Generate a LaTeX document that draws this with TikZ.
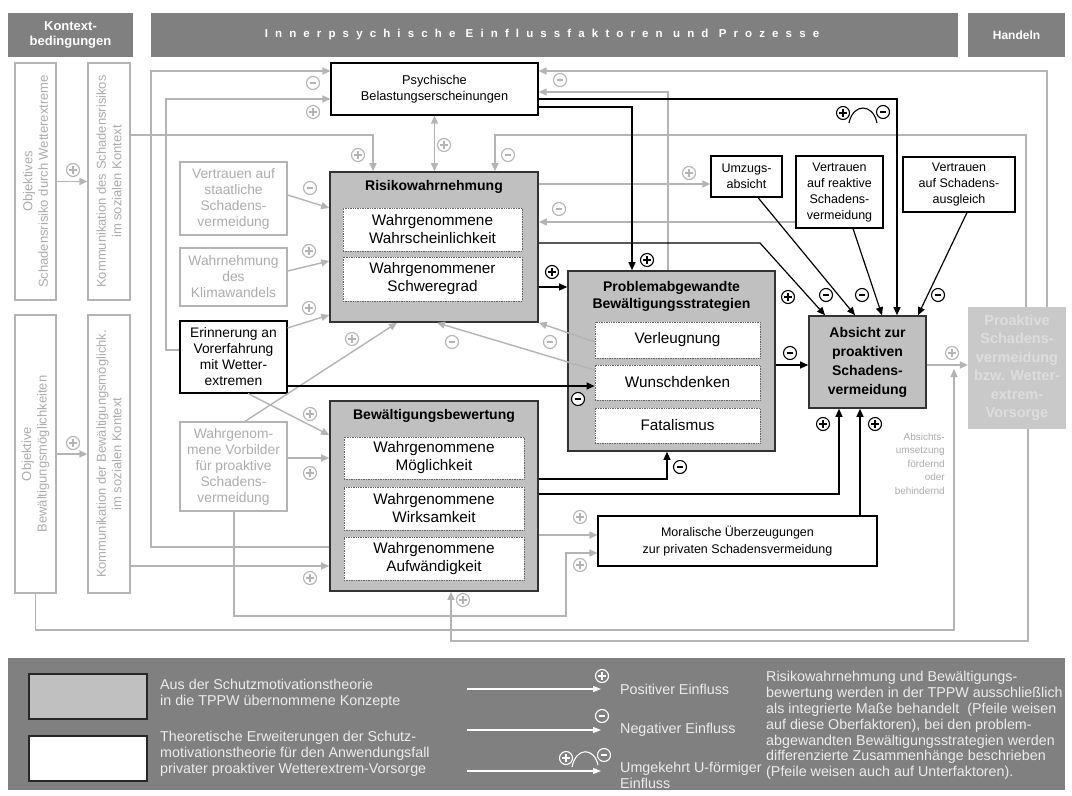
\documentclass[tikz,border=0pt]{standalone}
\usepackage{fontspec}
\setmainfont{Liberation Sans}
\usetikzlibrary{arrows.meta}
\definecolor{hdr}{HTML}{808080}
\definecolor{lg}{HTML}{B4B4B4}
\definecolor{gtxt}{HTML}{ADADAD}
\definecolor{thf}{HTML}{C0C0C0}
\definecolor{pfill}{HTML}{C9C9C9}
\definecolor{ptxt}{HTML}{DDDDDD}
\definecolor{legtxt}{HTML}{ECECEC}
\colorlet{symfill}{white}
\newcommand{\fsz}[2]{\fontsize{#1bp}{#2bp}\selectfont}
\tikzset{
  hbox/.style={fill=hdr, text=white, inner sep=0pt, align=center},
  gbox/.style={draw=lg, line width=1.3bp, fill=white, text=gtxt, align=center, inner sep=0pt, font=\fsz{13.8}{16}},
  wbox/.style={draw=black, line width=1.1bp, fill=white, text=black, align=center, inner sep=0pt},
  tbox/.style={draw=black!80, line width=1.6bp, fill=thf, inner sep=0pt},
  sbox/.style={draw=black!60, densely dotted, line width=0.7bp, fill=white, align=center, inner sep=0pt, font=\fsz{15.3}{18}},
  wh/.style 2 args={minimum width=#1bp, minimum height=#2bp},
  gl/.style={draw=lg, line width=1.4bp},
  ga/.style={gl, -{Triangle[length=8bp,width=7bp]}},
  gaa/.style={gl, {Triangle[length=8bp,width=7bp]}-{Triangle[length=8bp,width=7bp]}},
  bl/.style={draw=black, line width=1.2bp},
  ba/.style={bl, -{Triangle[length=8bp,width=7bp]}},
  legt/.style={text=legtxt, anchor=west, align=left, inner sep=0pt, font=\fsz{14.3}{16}},
  psign/.pic={\draw[fill=symfill,line width=1.1bp] (0,0) circle (6.5); \draw[line width=2.2bp] (-3.6,0)--(3.6,0) (0,-3.6)--(0,3.6);},
  msign/.pic={\draw[fill=symfill,line width=1.1bp] (0,0) circle (6.5); \draw[line width=2.4bp] (-3.4,0)--(3.4,0);},
}
\begin{document}
\begin{tikzpicture}[x=1bp,y=-1bp]
\useasboundingbox[fill=white] (0,0) rectangle (1072,796);

% ---------- headers
\node[hbox, wh={125}{44}, font=\fsz{13}{15.5}\bfseries] (hk) at (70.5,35) {Kontext-\\bedingungen};
\node[hbox, wh={807}{44}] (hi) at (554.5,35) {};
\node[text=white, inner sep=0pt, font=\fsz{11.5}{14}\bfseries\addfontfeature{LetterSpace=62}] (hit) at (542,35) {Innerpsychische Einflussfaktoren und Prozesse};
\node[hbox, wh={97}{44}, font=\fsz{12}{14}\bfseries] (hh) at (1016.5,35) {Handeln};

% ---------- context column
\node[gbox, wh={41}{237}] (ka) at (35.5,181.5) {};
\node[rotate=90, text=gtxt, align=center, inner sep=0pt, font=\fsz{13}{15.5}] (kat) at (ka) {Objektives\\Schadensrisiko durch Wetterextreme};
\node[gbox, wh={42}{237}] (kb) at (109,181.5) {};
\node[rotate=90, text=gtxt, align=center, inner sep=0pt, font=\fsz{13}{15.5}] (kbt) at (kb) {Kommunikation des Schadensrisikos\\im sozialen Kontext};
\node[gbox, wh={41}{278}] (kc) at (35.5,454) {};
\node[rotate=90, text=gtxt, align=center, inner sep=0pt, font=\fsz{13}{15.5}] (kct) at (kc) {Objektive\\Bewältigungsmöglichkeiten};
\node[gbox, wh={42}{278}] (kd) at (109,454) {};
\node[rotate=90, text=gtxt, align=center, inner sep=0pt, font=\fsz{13}{15.5}] (kdt) at (kd) {Kommunikation der Bewältigungsmöglichk.\\im sozialen Kontext};

% ---------- small left factors
\node[gbox, wh={107}{73}] (vst) at (233.5,198.5) {Vertrauen auf\\staatliche\\Schadens-\\vermeidung};
\node[gbox, wh={107}{58}] (wkl) at (233.5,277) {Wahrnehmung\\des\\Klimawandels};
\node[wbox, wh={107}{72}, font=\fsz{13.8}{16}] (erin) at (233.5,357) {Erinnerung an\\Vorerfahrung\\mit Wetter-\\extremen};
\node[gbox, wh={107}{89}] (vorb) at (233.5,466.5) {Wahrgenom-\\mene Vorbilder\\für proaktive\\Schadens-\\vermeidung};

% ---------- central boxes
\node[wbox, wh={207}{52}, font=\fsz{12.8}{16}] (psy) at (434.5,89) {Psychische\\Belastungserscheinungen};

\node[tbox, wh={208}{150}] (risk) at (434,247) {};
\node[inner sep=0pt, font=\fsz{14}{17}\bfseries] (riskt) at (434,187) {Risikowahrnehmung};
\node[sbox, wh={179}{43}] (rs1) at (432.5,229.5) {Wahrgenommene\\Wahrscheinlichkeit};
\node[sbox, wh={179}{44}] (rs2) at (432.5,279) {Wahrgenommener\\Schweregrad};

\node[tbox, wh={207}{180}] (prob) at (671.5,361) {};
\node[inner sep=0pt, align=center, font=\fsz{14}{17}\bfseries] (probt) at (671.5,296) {Problemabgewandte\\Bewältigungsstrategien};
\node[sbox, wh={165}{36}] (ps1) at (677.5,340) {Verleugnung};
\node[sbox, wh={165}{35}] (ps2) at (677.5,382.5) {Wunschdenken};
\node[sbox, wh={165}{35}] (ps3) at (677.5,425.5) {Fatalismus};

\node[tbox, wh={208}{190}] (bew) at (434,496) {};
\node[inner sep=0pt, font=\fsz{14}{17}\bfseries] (bewt) at (434,416) {Bewältigungsbewertung};
\node[sbox, wh={180}{42}] (bs1) at (434,458) {Wahrgenommene\\Möglichkeit};
\node[sbox, wh={180}{43}] (bs2) at (434,508.5) {Wahrgenommene\\Wirksamkeit};
\node[sbox, wh={180}{43}] (bs3) at (434,558.5) {Wahrgenommene\\Aufwändigkeit};

% ---------- right side
\node[wbox, wh={71}{41}, font=\fsz{12.5}{16}] (umz) at (746.5,176.5) {Umzugs-\\absicht};
\node[wbox, wh={87}{72}, font=\fsz{12.5}{16}] (vre) at (839.5,192) {Vertrauen\\auf reaktive\\Schadens-\\vermeidung};
\node[wbox, wh={112}{55}, font=\fsz{12.5}{16}] (vsa) at (959,184.5) {Vertrauen\\auf Schadens-\\ausgleich};
\node[tbox, wh={117}{92}, align=center, font=\fsz{14}{19}\bfseries] (abs) at (867.5,362) {Absicht zur\\proaktiven\\Schadens-\\vermeidung};
\node[fill=pfill, wh={98}{122}, text=ptxt, align=center, inner sep=0pt, font=\fsz{14.5}{18.5}\bfseries] (pro) at (1017,368) {Proaktive\\Schadens-\\vermeidung\\bzw. Wetter-\\extrem-\\Vorsorge};
\node[wbox, wh={279}{50}, font=\fsz{12.5}{17}] (mor) at (737.5,541) {Moralische Überzeugungen\\zur privaten Schadensvermeidung};
\node[text=gtxt, align=right, anchor=north east, inner sep=0pt, font=\fsz{10}{13.5}] (aut) at (945,433) {Absichts-\\umsetzung\\fördernd\\oder\\behindernd};

% ---------- grey connectors
\draw[ga] (ka.east) -- (kb.west);
\draw[ga] (kc.east) -- (kd.west);
\draw[ga] (kb.east |- 0,135) -| (risk.north -| 373,0);
\draw[ga] (bew.west |- 0,547) -| (151,71) -- (psy.west |- 0,71);
\draw[ga] (erin.west |- 0,350) -| (166,99) -- (psy.west |- 0,99);
\draw[gaa] (psy.south) -- (psy.south |- risk.north);
\draw[ga] (pro.north -| 1026,0) |- (495,135) -- (risk.north -| 495,0);
\draw[ga] (pro.north -| 1047,0) |- (psy.east |- 0,71);
\draw[ga] (prob.north -| 668,0) |- (psy.east |- 0,92);
\draw[ga] (risk.east |- 0,184) -- (umz.west |- 0,184);
\draw[ga] (vre.west |- 0,222) -- (risk.east |- 0,222);
\draw[ga] (vst.east |- 0,195) -- (risk.west |- 0,208);
\draw[ga] (wkl.east |- 0,271) -- (risk.west |- 0,261);
\draw[ga] (erin.east |- 0,328) -- (risk.west |- 0,315);
\draw[ga] (erin.south -| 248,0) -- (bew.west |- 0,435);
\draw[ga] (vorb.north -| 245,0) -- (risk.south -| 397,0);
\draw[ga] (vorb.east |- 0,458) -- (bew.west |- 0,458);
\draw[ga] (kd.east |- 0,566) -- (bew.west |- 0,566);
\draw[ga] (ps1.west |- 0,342) -- (risk.south east);
\draw[ga] (ps2.west |- 0,370) -- (risk.south -| 437,0);
\draw[ga] (bew.east |- 0,535) -- (mor.west |- 0,535);
\draw[ga] (vorb.south -| 234,0) |- (566,616) |- (mor.west |- 0,553);
\draw[ga] (pro.south -| 1028,0) |- (451,641) -- (bew.south -| 451,0);
\coordinate (modt) at (954,369);
\draw[ga] (kc.south) |- (954,630) -- (modt);
\draw[ga] (abs.east |- 0,365) -- (pro.west |- 0,365);

% ---------- black connectors
\draw[ba] (psy.east |- 0,99) -| (abs.north -| 897,0);
\draw[ba] (psy.east |- 0,107) -| (prob.north -| 632,0);
\draw[ba] (risk.east |- 0,287) -- (prob.west |- 0,287);
\draw[ba] (risk.east |- 0,243) -- (760,243) -- (abs.north -| 825,0);
\draw[ba] (umz.south -| 758,0) -- (abs.north -| 855,0);
\draw[ba] (vre.south -| 853,0) -- (abs.north -| 882,0);
\draw[ba] (vsa.south -| 967,0) -- (abs.north -| 918,0);
\draw[ba] (prob.east |- 0,365) -- (abs.west |- 0,365);
\draw[ba] (erin.east |- 0,386) -- (ps2.west |- 0,386);
\draw[ba] (bew.east |- 0,479) -| (prob.south -| 667,0);
\draw[ba] (bew.east |- 0,494) -| (abs.south -| 839,0);
\draw[ba] (mor.north -| 860,0) -- (abs.south -| 860,0);

% ---------- signs (grey)
\begin{scope}[color=lg]
\foreach \p in {(73,170),(73,443),(358,155),(313,112),(444,145),(689,173),(309,251),(309,308),(310,414),(352,339),(310,473),(310,578),(580,517),(580,565),(463,600),(952,353)}
  \pic at \p {psign};
\foreach \p in {(313,83),(508,155),(560,80),(559,209),(310,188),(550,342),(452,342)}
  \pic at \p {msign};
\end{scope}
% ---------- signs (black)
\foreach \p in {(647,260),(552,272),(788,297),(823,424),(875,424)}
  \pic at \p {psign};
\foreach \p in {(826,295),(862,295),(938,295),(790,353),(578,399),(680,467)}
  \pic at \p {msign};
\pic at (843,113) {psign};
\pic at (883,112) {msign};
\draw[line width=1.1bp] (849,123) .. controls (853,103) and (873,103) .. (877,123);

% ---------- legend
\node[fill=hdr, wh={1057}{132}, inner sep=0pt] (leg) at (536.5,724) {};
\node[draw=black!85, line width=1.2bp, fill=thf, wh={118}{45}] (lk1) at (88,696.5) {};
\node[draw=black!85, line width=1.2bp, fill=white, wh={118}{45}] (lk2) at (88,758.5) {};
\node[legt] (lt1) at (160,694) {Aus der Schutzmotivationstheorie\\in die TPPW übernommene Konzepte};
\node[legt] (lt2) at (160,754) {Theoretische Erweiterungen der Schutz-\\motivationstheorie für den Anwendungsfall\\privater proaktiver Wetterextrem-Vorsorge};
\begin{scope}[color=white]
\colorlet{symfill}{hdr}
\coordinate (l1a) at (467,689); \coordinate (l1b) at (601,689);
\coordinate (l2a) at (467,730); \coordinate (l2b) at (601,730);
\coordinate (l3a) at (467,771); \coordinate (l3b) at (601,771);
\draw[white, line width=1.1bp, -{Triangle[length=8bp,width=6bp]}] (l1a) -- (l1b);
\draw[white, line width=1.1bp, -{Triangle[length=8bp,width=6bp]}] (l2a) -- (l2b);
\draw[white, line width=1.1bp, -{Triangle[length=8bp,width=6bp]}] (l3a) -- (l3b);
\pic at (602,676) {psign};
\pic at (602,716) {msign};
\pic at (566,758) {psign};
\pic at (604,755) {msign};
\draw[line width=1.1bp] (572,767) .. controls (576,747) and (594,747) .. (598,765);
\end{scope}
\node[legt] (lp) at (620,689) {Positiver Einfluss};
\node[legt] (ln) at (620,730) {Negativer Einfluss};
\node[legt] (lu) at (620,775.5) {Umgekehrt U-förmiger\\Einfluss};
\node[legt, font=\fsz{14.3}{15.8}] (lr) at (766,725.5) {Risikowahrnehmung und Bewältigungs-\\bewertung werden in der TPPW ausschließlich\\als integrierte Maße behandelt~ (Pfeile weisen\\auf diese Oberfaktoren), bei den problem-\\abgewandten Bewältigungsstrategien werden\\differenzierte Zusammenhänge beschrieben\\(Pfeile weisen auch auf Unterfaktoren).};
\end{tikzpicture}
\end{document}
